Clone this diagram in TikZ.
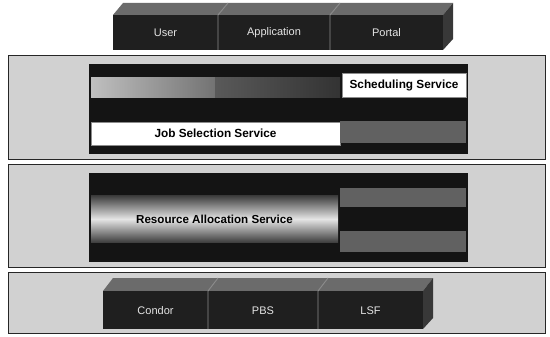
\documentclass[tikz,border=0pt]{standalone}
\usepackage{fontspec}
\setmainfont{Liberation Sans}
\begin{document}
\begin{tikzpicture}[x=1pt,y=-1pt,
  panel/.style={fill=black!18,draw=black!85,line width=0.9pt},
  darkbox/.style={fill=black!92,draw=none},
  whitebox/.style={fill=white,draw=black!45,line width=0.6pt,inner sep=0pt,font=\bfseries\fontsize{11.8}{13}\selectfont},
  greystrip/.style={fill=black!62,draw=none},
  blockfront/.style={fill=black!88},
  blocktop/.style={fill=black!58},
  blockside/.style={fill=black!78},
  divider/.style={draw=black!45,line width=0.9pt},
  blocklabel/.style={text=white!90!black,font=\fontsize{11}{12}\selectfont,inner sep=1pt},
  servicelabel/.style={text=black,font=\bfseries\fontsize{11.6}{13}\selectfont,inner sep=1pt}]
\useasboundingbox (0,0) rectangle (550,337);

% ---------- top blocks: User / Application / Portal ----------
\fill[blocktop] (113,15) -- (123,3) -- (453,3) -- (443,15) -- cycle;
\fill[blockside] (443,15) -- (453,3) -- (453,39) -- (443,50) -- cycle;
\fill[blockfront] (113,15) rectangle (443,50);
\draw[divider] (218,50) -- (218,15) -- (228,3);
\draw[divider] (330,50) -- (330,15) -- (340,3);
\node[blocklabel] (user) at (165.5,33) {User};
\node[blocklabel] (app) at (274,33) {Application};
\node[blocklabel] (portal) at (386.5,33) {Portal};

% ---------- layer 1 ----------
\node[panel,minimum width=537pt,minimum height=104pt,inner sep=0pt] (layer1) at (276.5,107) {};
\node[darkbox,minimum width=379pt,minimum height=90pt,inner sep=0pt] (dark1) at (278.5,109) {};
\shade[left color=black!25,right color=black!55] (91,78) rectangle (215,98);
\shade[left color=black!65,right color=black!80] (215,78) rectangle (340,98);
\node[whitebox,minimum width=124pt,minimum height=24pt] (sched) at (404,85.5) {Scheduling Service};
\node[whitebox,minimum width=249pt,minimum height=23pt] (jobsel) at (215.5,133.5) {Job Selection Service};
\node[greystrip,minimum width=126pt,minimum height=22pt,inner sep=0pt] (strip1) at (403,132) {};

% ---------- layer 2 ----------
\node[panel,minimum width=537pt,minimum height=103pt,inner sep=0pt] (layer2) at (276.5,216) {};
\node[darkbox,minimum width=379pt,minimum height=89pt,inner sep=0pt] (dark2) at (278.5,217.5) {};
\shade[top color=black!75,bottom color=black!75,middle color=black!10] (91,196) rectangle (338,242);
\node[servicelabel] (resalloc) at (214.5,219) {Resource Allocation Service};
\node[greystrip,minimum width=126pt,minimum height=19pt,inner sep=0pt] (strip2) at (403,197.5) {};
\node[greystrip,minimum width=126pt,minimum height=21pt,inner sep=0pt] (strip3) at (403,241.5) {};

% ---------- layer 3 ----------
\node[panel,minimum width=537pt,minimum height=61pt,inner sep=0pt] (layer3) at (276.5,302.5) {};
\fill[blocktop] (103,291) -- (113,278) -- (433,278) -- (423,291) -- cycle;
\fill[blockside] (423,291) -- (433,278) -- (433,318) -- (423,329) -- cycle;
\fill[blockfront] (103,291) rectangle (423,329);
\draw[divider] (208,329) -- (208,291) -- (218,278);
\draw[divider] (318,329) -- (318,291) -- (328,278);
\node[blocklabel] (condor) at (155.5,311) {Condor};
\node[blocklabel] (pbs) at (263,311) {PBS};
\node[blocklabel] (lsf) at (370.5,311) {LSF};
\end{tikzpicture}
\end{document}
